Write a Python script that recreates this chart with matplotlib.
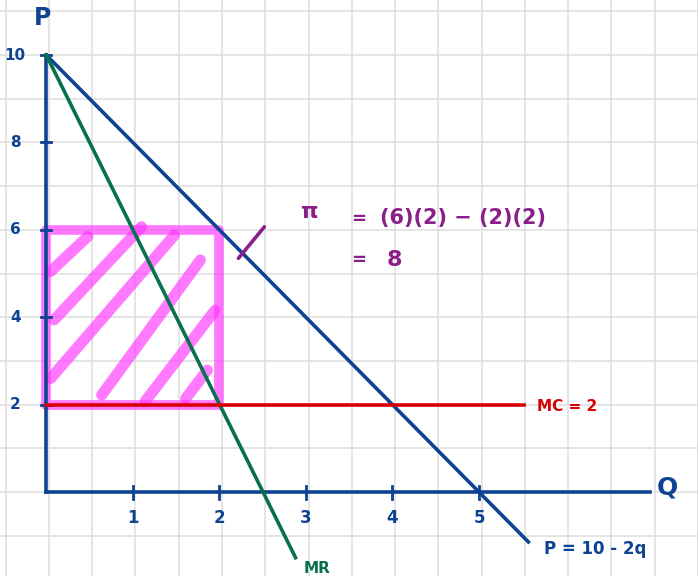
import numpy as np
import matplotlib.pyplot as plt

# colours of the pens
BLUE = '#0d4391'
GREEN = '#08704a'
RED = '#d80000'
PURPLE = '#8a1f8c'
PINK = '#ff33ff'

# lines (q, p) endpoints
demand_q = [0, 5.57]
demand_p = [10, -1.14]
mr_q = [0, 2.88]
mr_p = [10, -1.50]
mc_q = [0, 5.52]
mc_p = [2, 2]

# profit rectangle
rect_q = [0, 2]
rect_p = [2, 6]

# hatch strokes inside the rectangle (start q, start p, end q, end p)
hatch_q0 = [0.05, 0.09, 0.05, 0.64, 1.14, 1.61]
hatch_p0 = [5.05, 3.94, 2.60, 2.22, 2.07, 2.14]
hatch_q1 = [0.48, 1.10, 1.48, 1.78, 1.95, 1.86]
hatch_p1 = [5.85, 6.07, 5.88, 5.31, 4.16, 2.79]

# axis ticks
q_ticks = [1, 2, 3, 4, 5]
p_ticks = [2, 4, 6, 8, 10]
q_tick_labels = ['1', '2', '3', '4', '5']
p_tick_labels = ['2', '4', '6', '8', '10']

fig = plt.figure(figsize=(6.98, 5.76), dpi=100)
ax = fig.add_axes([0, 0, 1, 1])
ax.set_xlim(-0.535, 7.41)
ax.set_ylim(-1.92, 11.26)

# graph paper
ax.set_xticks(np.arange(-0.5, 7.6, 0.5) + 0.03)
ax.set_yticks(np.arange(-1, 12, 1))
ax.tick_params(length=0, labelbottom=False, labelleft=False)
ax.grid(color='#dedede', lw=1.1)
for s in ax.spines.values():
    s.set_visible(False)
ax.set_axisbelow(True)

# profit area
ax.plot([rect_q[0], rect_q[1], rect_q[1], rect_q[0], rect_q[0]],
        [rect_p[0], rect_p[0], rect_p[1], rect_p[1], rect_p[0]],
        color=PINK, lw=7, alpha=0.65, solid_capstyle='round', solid_joinstyle='round')
for i in range(len(hatch_q0)):
    ax.plot([hatch_q0[i], hatch_q1[i]], [hatch_p0[i], hatch_p1[i]],
            color=PINK, lw=8, alpha=0.65, solid_capstyle='round')

# axes drawn by hand
ax.plot([0, 0], [0, 10], color=BLUE, lw=2.6)
ax.plot([0, 6.97], [0, 0], color=BLUE, lw=2.6)
for q in q_ticks:
    ax.plot([q, q], [-0.15, 0.15], color=BLUE, lw=2)
for p in p_ticks:
    ax.plot([-0.06, 0.06], [p, p], color=BLUE, lw=2)
for q, lab in zip(q_ticks, q_tick_labels):
    ax.text(q, -0.6, lab, color=BLUE, fontsize=12, fontweight='bold',
            ha='center', va='center')
for p, lab in zip(p_ticks, p_tick_labels):
    ax.text(-0.36, p, lab, color=BLUE, fontsize=11, fontweight='bold',
            ha='center', va='center')
ax.text(-0.04, 10.85, 'P', color=BLUE, fontsize=17, fontweight='bold', ha='center', va='center')
ax.text(7.18, 0.1, 'Q', color=BLUE, fontsize=18, fontweight='bold', ha='center', va='center')

# curves
ax.plot(demand_q, demand_p, color=BLUE, lw=2.6)
ax.plot(mr_q, mr_p, color=GREEN, lw=2.6)
ax.plot(mc_q, mc_p, color=RED, lw=2.6)

ax.text(5.67, 1.95, 'MC = 2', color=RED, fontsize=11, fontweight='bold', va='center')
ax.text(5.75, -1.3, 'P = 10 - 2q', color=BLUE, fontsize=12, fontweight='bold', va='center')
ax.text(2.97, -1.75, 'MR', color=GREEN, fontsize=11, fontweight='bold', va='center')

# profit note
ax.plot([2.22, 2.52], [5.35, 6.07], color=PURPLE, lw=2.6, solid_capstyle='round')
ax.text(2.93, 6.4, 'π', color=PURPLE, fontsize=16, fontweight='bold', va='center')
ax.text(3.52, 6.25, '=', color=PURPLE, fontsize=13, fontweight='bold', va='center')
ax.text(3.85, 6.27, '(6)(2) − (2)(2)', color=PURPLE, fontsize=15, fontweight='bold', va='center')
ax.text(3.52, 5.3, '=', color=PURPLE, fontsize=13, fontweight='bold', va='center')
ax.text(3.93, 5.3, '8', color=PURPLE, fontsize=16, fontweight='bold', va='center')

fig.savefig('out.png', dpi=100)
